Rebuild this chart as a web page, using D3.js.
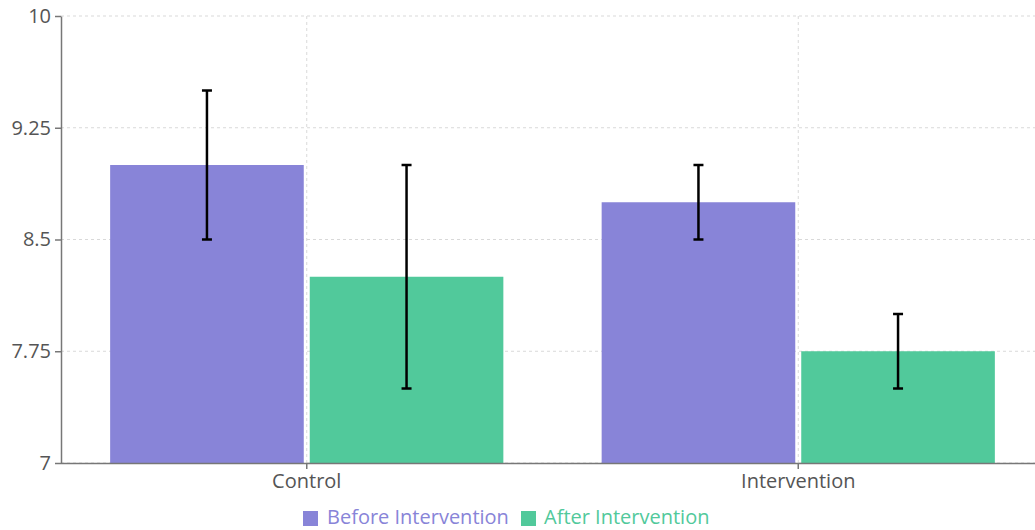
<!DOCTYPE html>
<html>
<head>
<meta charset="utf-8">
<script src="https://cdn.jsdelivr.net/npm/d3@7"></script>
<style>
  html, body { margin: 0; padding: 0; background: #fff; overflow: hidden; }
  svg { display: block; font-family: "Open Sans", "Noto Sans", sans-serif; }
</style>
</head>
<body>
<svg id="chart" width="1035" height="530"></svg>
<script>
// Group means with their error ranges
const categories = ["Control", "Intervention"];
const seriesNames = ["Before Intervention", "After Intervention"];
const beforeValues = [9.0, 8.75];
const afterValues = [8.25, 7.75];
const beforeErrLow = [8.5, 8.5];
const beforeErrHigh = [9.5, 9.0];
const afterErrLow = [7.5, 7.5];
const afterErrHigh = [9.0, 8.0];
const yTicks = [7, 7.75, 8.5, 9.25, 10];
const colors = ["#8884d8", "#51c99b"];

const svg = d3.select("#chart");
const margin = { left: 61, top: 16, right: -9, bottom: 67 };
const W = 1035, H = 530;
const plotBottom = H - margin.bottom;

const x0 = d3.scaleBand().domain(categories).range([margin.left, W - margin.right]).padding(0);
const bw = x0.bandwidth();
const x1 = d3.scaleBand().domain(seriesNames)
  .range([bw * 0.1, bw * 0.9]).paddingInner(0.03);
const y = d3.scaleLinear().domain([7, 10]).range([plotBottom, margin.top]);

// grid
const grid = svg.append("g").attr("stroke", "#d9d9d9").attr("stroke-dasharray", "3 3").attr("fill", "none");
yTicks.forEach(t => {
  grid.append("line").attr("x1", margin.left).attr("x2", W).attr("y1", y(t)).attr("y2", y(t));
});
categories.forEach(c => {
  const cx = x0(c) + bw / 2;
  grid.append("line").attr("x1", cx).attr("x2", cx).attr("y1", margin.top).attr("y2", plotBottom);
});

// bars
const rows = categories.map((c, i) => ({
  category: c,
  items: [
    { name: seriesNames[0], value: beforeValues[i], lo: beforeErrLow[i], hi: beforeErrHigh[i], color: colors[0] },
    { name: seriesNames[1], value: afterValues[i], lo: afterErrLow[i], hi: afterErrHigh[i], color: colors[1] }
  ]
}));

const groups = svg.append("g").selectAll("g").data(rows).join("g")
  .attr("transform", d => `translate(${x0(d.category)},0)`);

groups.selectAll("rect").data(d => d.items).join("rect")
  .attr("x", d => x1(d.name))
  .attr("width", x1.bandwidth())
  .attr("y", d => y(d.value))
  .attr("height", d => plotBottom - y(d.value))
  .attr("fill", d => d.color);

// error bars
const eb = groups.selectAll("g.err").data(d => d.items).join("g").attr("class", "err")
  .attr("stroke", "#000").attr("stroke-width", 2.5);
eb.append("line")
  .attr("x1", d => x1(d.name) + x1.bandwidth() / 2)
  .attr("x2", d => x1(d.name) + x1.bandwidth() / 2)
  .attr("y1", d => y(d.lo)).attr("y2", d => y(d.hi));
["lo", "hi"].forEach(k => {
  eb.append("line")
    .attr("x1", d => x1(d.name) + x1.bandwidth() / 2 - 5)
    .attr("x2", d => x1(d.name) + x1.bandwidth() / 2 + 5)
    .attr("y1", d => y(d[k])).attr("y2", d => y(d[k]));
});

// axes
const yAxis = svg.append("g").attr("transform", `translate(${margin.left},0)`)
  .call(d3.axisLeft(y).tickValues(yTicks).tickFormat(d => String(d)).tickSize(6).tickSizeOuter(0).tickPadding(4));
const xAxis = svg.append("g").attr("transform", `translate(0,${plotBottom})`)
  .call(d3.axisBottom(x0).tickSize(6).tickSizeOuter(0).tickPadding(5));
[yAxis, xAxis].forEach(a => {
  a.select(".domain").attr("stroke", "#777").attr("stroke-width", 1.5);
  a.selectAll(".tick line").attr("stroke", "#777").attr("stroke-width", 1.5);
  a.selectAll(".tick text").attr("fill", "#555").attr("font-size", 20).attr("font-family", "Open Sans, Noto Sans, sans-serif");
});
xAxis.select(".domain").attr("d", `M${margin.left},0.5H${W}`);

// legend
const legend = svg.append("g").attr("font-size", 20);
const legendItems = [
  { name: seriesNames[0], color: colors[0], x: 303, tx: 327 },
  { name: seriesNames[1], color: colors[1], x: 521, tx: 544 }
];
legendItems.forEach(it => {
  legend.append("rect").attr("x", it.x).attr("y", 511).attr("width", 15).attr("height", 15).attr("fill", it.color);
  legend.append("text").attr("x", it.tx).attr("y", 524).attr("fill", it.color).text(it.name);
});
</script>
</body>
</html>
